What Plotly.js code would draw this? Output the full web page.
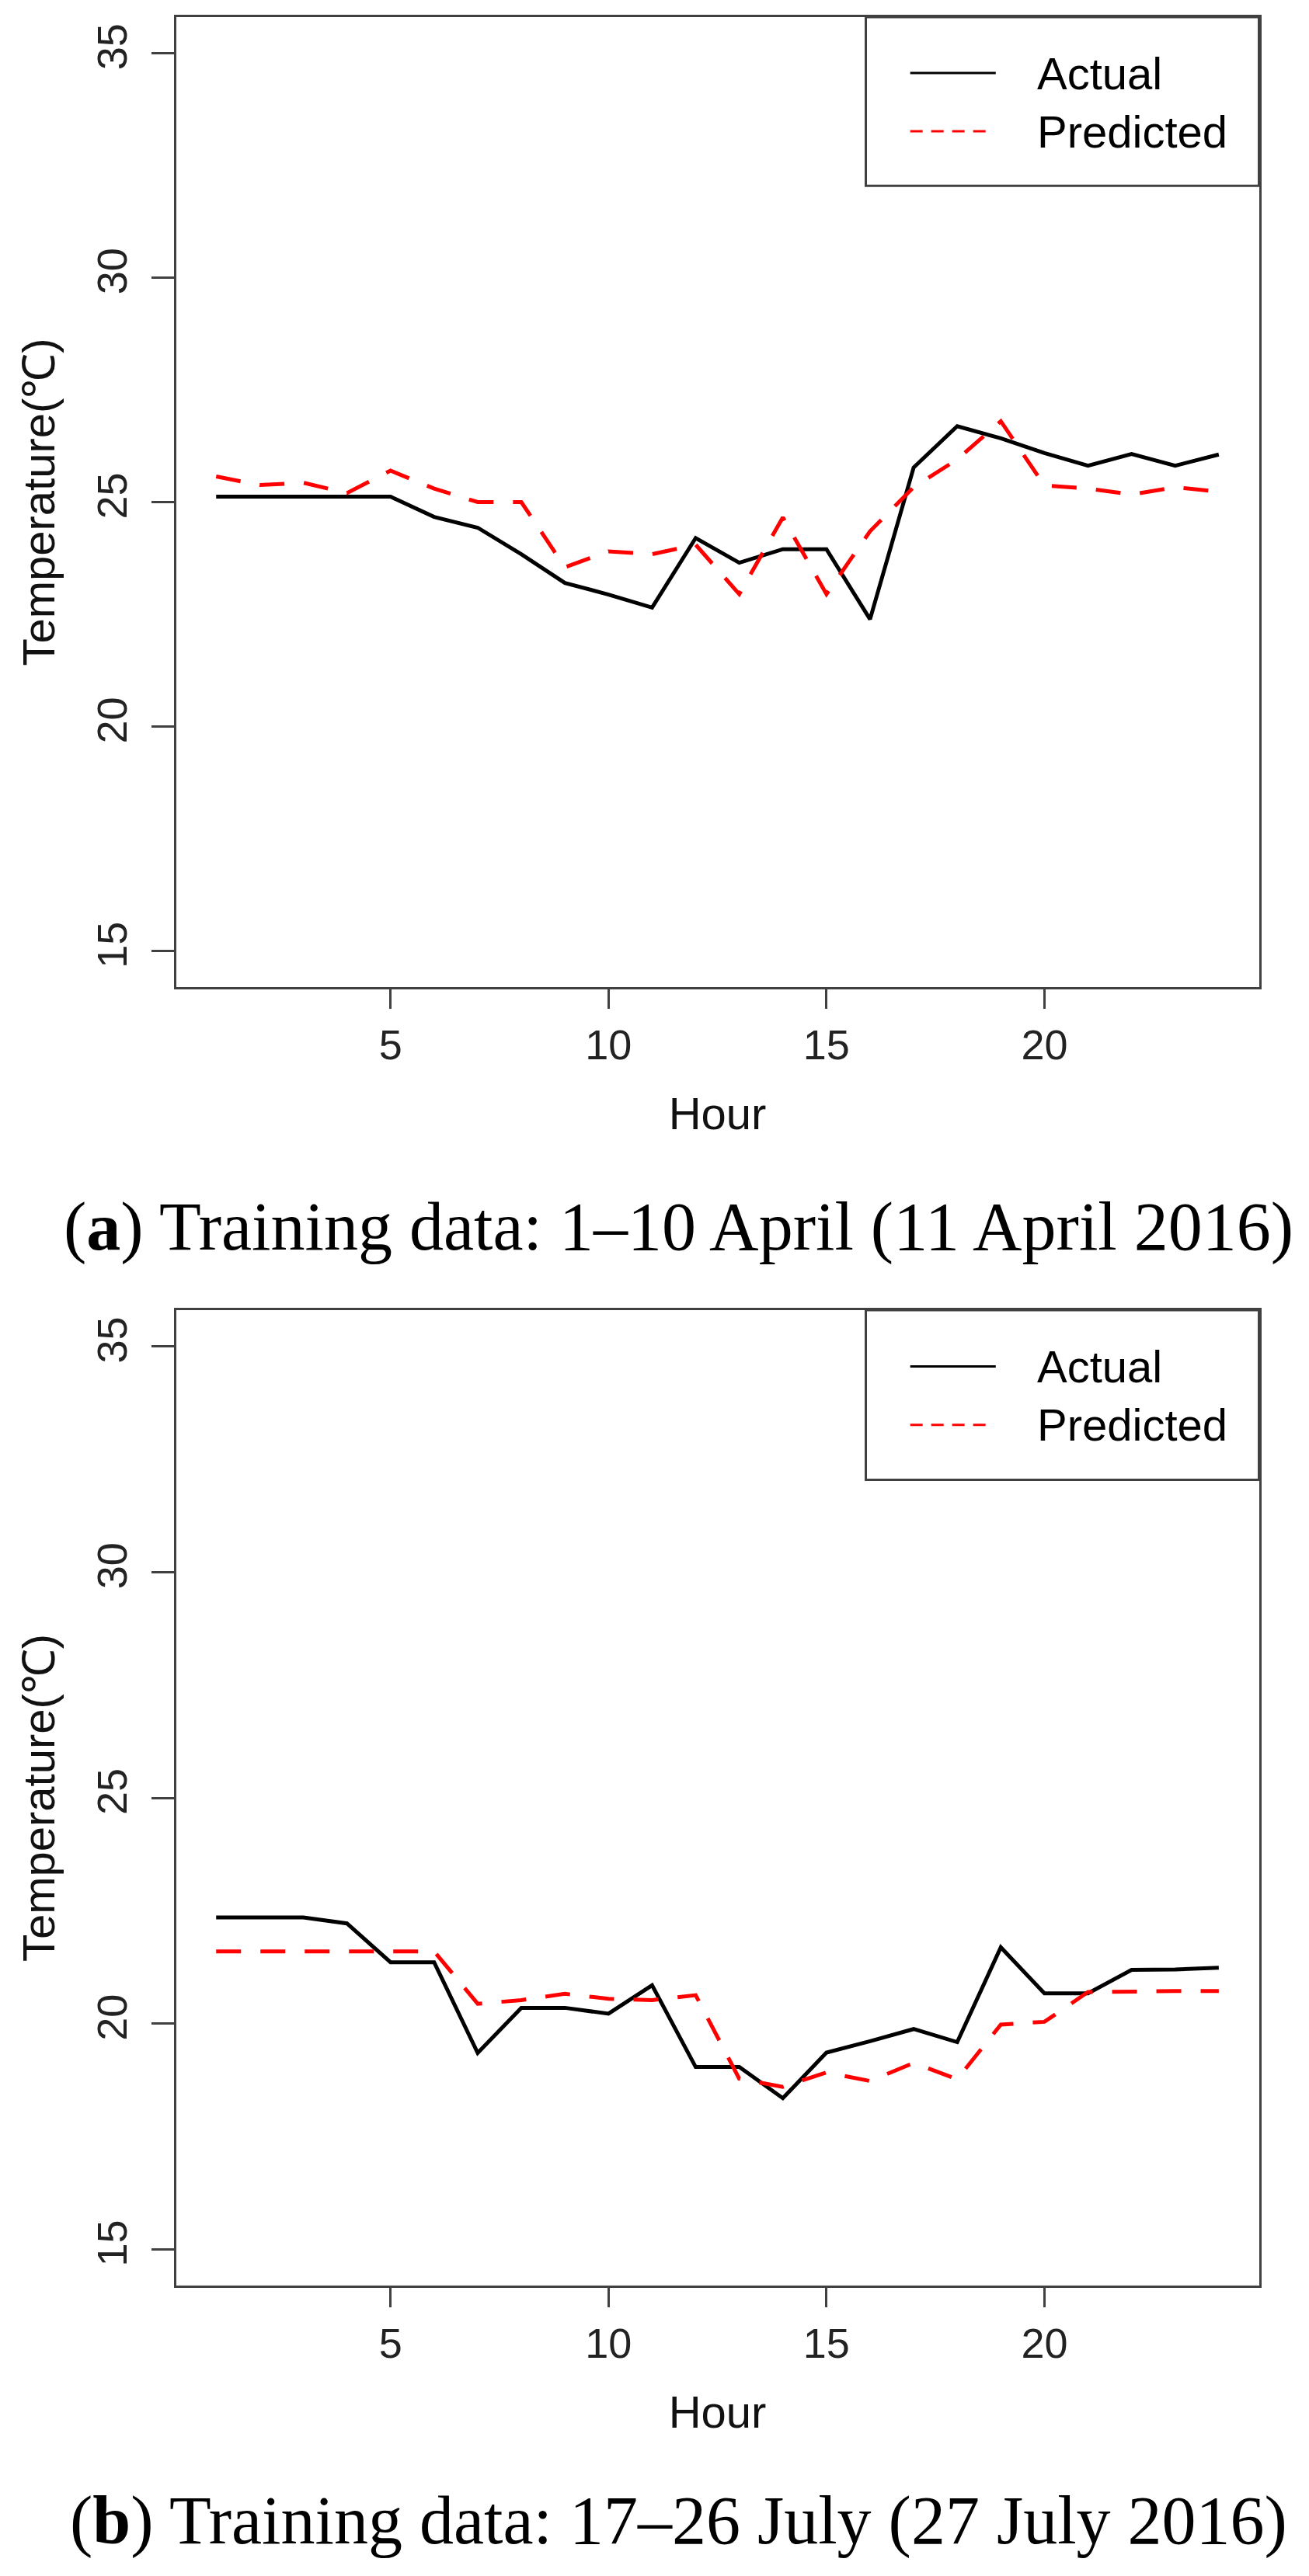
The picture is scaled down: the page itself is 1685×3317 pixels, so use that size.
<!DOCTYPE html>
<html>
<head>
<meta charset="utf-8">
<script src="https://cdn.plot.ly/plotly-3.0.1.min.js"></script>
<style>
  body { margin: 0; background: white; }
  #graph { width: 1685px; height: 3317px; }
</style>
</head>
<body>
<div id="graph"></div>
<script>
// Hours of the forecast day
var hours = [1, 2, 3, 4, 5, 6, 7, 8, 9, 10, 11, 12, 13, 14, 15, 16, 17, 18, 19, 20, 21, 22, 23, 24];

// (a) 11 April 2016
var actual_a    = [25.12, 25.12, 25.12, 25.12, 25.12, 24.67, 24.43, 23.84, 23.20, 22.94, 22.65, 24.20,
                   23.65, 23.95, 23.95, 22.39, 25.77, 26.69, 26.42, 26.09, 25.81, 26.07, 25.81, 26.06];
var predicted_a = [25.57, 25.38, 25.43, 25.20, 25.70, 25.30, 25.00, 25.00, 23.55, 23.90, 23.84, 24.05,
                   22.95, 24.66, 22.95, 24.35, 25.33, 25.95, 26.80, 25.37, 25.30, 25.17, 25.33, 25.23];

// (b) 27 July 2016
var actual_b    = [22.35, 22.35, 22.35, 22.22, 21.36, 21.36, 19.35, 20.35, 20.35, 20.22, 20.85, 19.04,
                   19.04, 18.35, 19.36, 19.61, 19.88, 19.59, 21.69, 20.67, 20.67, 21.19, 21.20, 21.24];
var predicted_b = [21.60, 21.60, 21.60, 21.60, 21.60, 21.60, 20.44, 20.52, 20.66, 20.55, 20.52, 20.63,
                   18.78, 18.60, 18.92, 18.73, 19.13, 18.77, 19.98, 20.04, 20.70, 20.72, 20.72, 20.72];

var x_ticks = [5, 10, 15, 20];
var y_ticks = [15, 20, 25, 30, 35];
var series_names = ['Actual', 'Predicted'];
var captions = ['(<b>a</b>) Training data: 1\u201310 April (11 April 2016)',
                '(<b>b</b>) Training data: 17\u201326 July (27 July 2016)'];

//Page size in px
var W = 1685, H = 3317;
var sans = 'Liberation Sans, Arial, sans-serif';
var serif = 'Liberation Serif, Times New Roman, serif';
var axis_color = '#404040';

// pixel -> paper helpers
function fx(px){ return px / W }
function fy(py){ return 1 - py / H }

// plot frames (top, bottom in px from the top of the page)
var frames = [
  {top: 22,   bottom: 1271},
  {top: 1687, bottom: 2943}
];
var left_px = 226.6, right_px = 1620.5;

function make_xaxis(anchor){
  return {
    domain: [fx(left_px), fx(right_px)],
    anchor: anchor,
    range: [0.08, 24.92],
    tickmode: 'array',
    tickvals: x_ticks,
    ticks: 'outside',
    ticklen: 25,
    tickwidth: 3,
    tickcolor: axis_color,
    ticklabelstandoff: 0,
    tickfont: {family: sans, size: 54, color: '#222'},
    showline: true,
    mirror: true,
    linewidth: 3,
    linecolor: axis_color,
    showgrid: false,
    zeroline: false,
    automargin: false,
    title: {text: 'Hour', font: {family: sans, size: 58, color: '#111'}, standoff: 40}
  }
}

function make_yaxis(anchor, top, bottom){
  return {
    domain: [fy(bottom), fy(top)],
    anchor: anchor,
    range: [14.2, 35.8],
    tickmode: 'array',
    tickvals: y_ticks,
    tickangle: -90,
    ticks: 'outside',
    ticklen: 29,
    tickwidth: 3,
    tickcolor: axis_color,
    ticklabelstandoff: 10,
    tickfont: {family: sans, size: 54, color: '#222'},
    showline: true,
    mirror: true,
    linewidth: 3,
    linecolor: axis_color,
    showgrid: false,
    zeroline: false,
    automargin: false,
    title: {text: 'Temperature(\u2103)', font: {family: sans, size: 58, color: '#111'}, standoff: 25}
  }
}

function traces_for(actual, predicted, xa, ya){
  return [
    {
      x: hours, y: actual, name: series_names[0],
      xaxis: xa, yaxis: ya,
      mode: 'lines', type: 'scatter',
      line: {color: '#000000', width: 5},
      showlegend: false
    },
    {
      x: hours, y: predicted, name: series_names[1],
      xaxis: xa, yaxis: ya,
      mode: 'lines', type: 'scatter',
      line: {color: '#ff0000', width: 5, dash: '32px,25px'},
      showlegend: false
    }
  ]
}

// legend box drawn R-style inside the top right corner of each panel
function legend_shapes(xd, yd){
  return [
    {type: 'rect', xref: xd, yref: yd, x0: 0.637, x1: 1, y0: 0.826, y1: 1,
     line: {color: axis_color, width: 3}, fillcolor: 'white', layer: 'above'},
    {type: 'line', xref: xd, yref: yd, x0: 0.678, x1: 0.757, y0: 0.9423, y1: 0.9423,
     line: {color: '#000000', width: 3}, layer: 'above'},
    {type: 'line', xref: xd, yref: yd, x0: 0.678, x1: 0.748, y0: 0.8823, y1: 0.8823,
     line: {color: '#ff0000', width: 3, dash: '16px,11px'}, layer: 'above'}
  ]
}

function legend_labels(xd, yd){
  return series_names.map(function(name, i){
    return {
      xref: xd, yref: yd, x: 0.794, y: [0.9423, 0.8823][i],
      xanchor: 'left', yanchor: 'middle', showarrow: false,
      text: name, font: {family: sans, size: 58, color: '#000'}
    }
  })
}

var data = traces_for(actual_a, predicted_a, 'x', 'y')
  .concat(traces_for(actual_b, predicted_b, 'x2', 'y2'));

var caption_notes = captions.map(function(c, i){
  return {
    xref: 'paper', yref: 'paper', x: fx(873), y: fy([1579, 3245][i]),
    xanchor: 'center', yanchor: 'middle', showarrow: false,
    text: c, font: {family: serif, size: 88, color: '#000'}
  }
});

var layout = {
  width: W,
  height: H,
  margin: {l: 0, r: 0, t: 0, b: 0, pad: 0},
  paper_bgcolor: 'white',
  plot_bgcolor: 'white',
  showlegend: false,
  font: {family: sans},
  xaxis: make_xaxis('y'),
  yaxis: make_yaxis('x', frames[0].top, frames[0].bottom),
  xaxis2: make_xaxis('y2'),
  yaxis2: make_yaxis('x2', frames[1].top, frames[1].bottom),
  shapes: legend_shapes('x domain', 'y domain').concat(legend_shapes('x2 domain', 'y2 domain')),
  annotations: legend_labels('x domain', 'y domain')
    .concat(legend_labels('x2 domain', 'y2 domain'))
    .concat(caption_notes)
};

Plotly.newPlot('graph', data, layout, {displayModeBar: false, staticPlot: true});
</script>
</body>
</html>
